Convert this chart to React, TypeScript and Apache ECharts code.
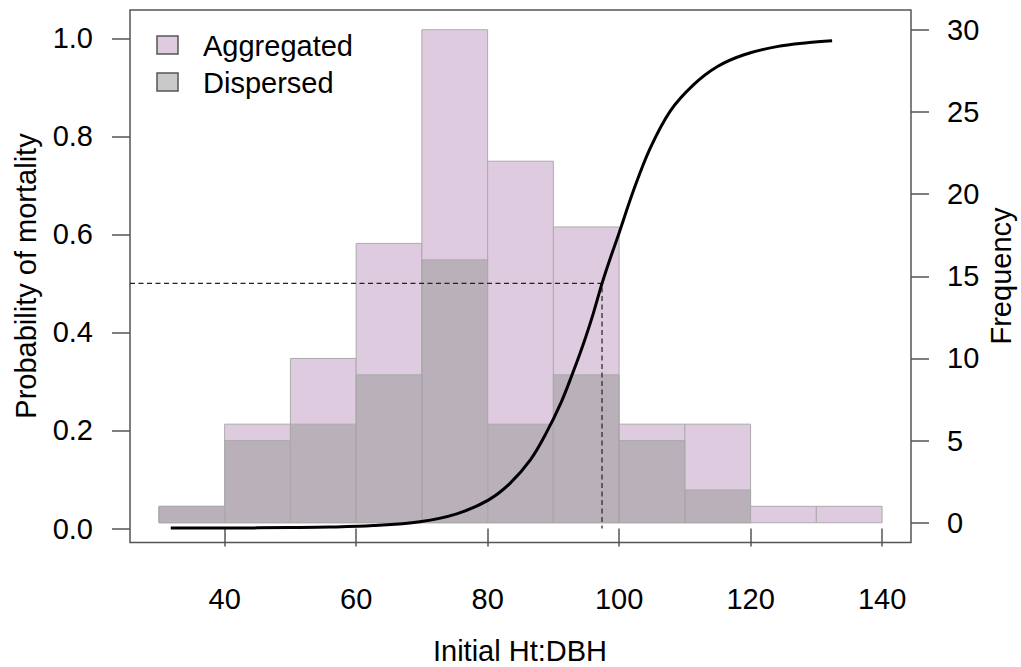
import React, { useEffect, useRef } from "react";
import * as echarts from "echarts";

// Histogram bins (Initial Ht:DBH)
const binEdges = [30, 40, 50, 60, 70, 80, 90, 100, 110, 120, 130, 140];
const aggregatedCounts = [1, 6, 10, 17, 30, 22, 18, 6, 6, 1, 1];
const dispersedCounts = [1, 5, 6, 9, 16, 6, 9, 5, 2, 0, 0];

// Fitted probability of mortality curve
const curveX = [31.8, 40, 50, 56, 62.6, 69.7, 75.3, 80.1, 83.4, 86.5, 88.8, 91.2, 92.8, 94.6, 96.1, 97.4, 98.7, 100.0, 102.2, 104.7, 107.8, 111.3, 114.9, 118.9, 124.0, 128.6, 132.4];
const curveP = [0.001, 0.001, 0.002, 0.003, 0.006, 0.014, 0.03, 0.058, 0.092, 0.14, 0.192, 0.258, 0.312, 0.378, 0.44, 0.5, 0.553, 0.603, 0.69, 0.775, 0.852, 0.905, 0.942, 0.966, 0.983, 0.991, 0.995];

// 50% mortality threshold
const thresholdX = 97.4;
const thresholdP = 0.5;

// Axis ticks
const xTicks = [40, 60, 80, 100, 120, 140];
const probTicks = [0, 0.2, 0.4, 0.6, 0.8, 1.0];
const freqTicks = [0, 5, 10, 15, 20, 25, 30];

const X_MIN = 25.6;
const X_MAX = 144.4;

const FONT = "'Liberation Sans', Arial, sans-serif";
const FS = 29;
const AXIS_COLOR = "#555";
const AGG_FILL = "#dfcbdf";
const DISP_FILL = "rgba(150,150,150,0.5)";
const BAR_STROKE = "#ababab";

function histData(counts: number[]) {
  return counts.map((c, i) => [binEdges[i], binEdges[i + 1], c]);
}

function makeRenderItem(fill: string, stroke: string) {
  return (params: any, api: any) => {
    const x0 = api.value(0);
    const x1 = api.value(1);
    const c = api.value(2);
    if (!(c > 0)) return null;
    const p0 = api.coord([x0, 0]);
    const p1 = api.coord([x1, c]);
    return {
      type: "rect",
      shape: { x: p0[0], y: p1[1], width: p1[0] - p0[0], height: p0[1] - p1[1] },
      style: { fill, stroke, lineWidth: 1 },
    };
  };
}

export default function App() {
  const ref = useRef<HTMLDivElement>(null);

  useEffect(() => {
    if (!ref.current) return;
    const chart = echarts.init(ref.current, null, { renderer: "svg" });
    const axisLabelStyle = { color: "#000", fontFamily: FONT, fontSize: FS };
    const tickStyle = { show: true, length: 18, lineStyle: { color: AXIS_COLOR, width: 1.5 } };

    chart.setOption({
      animation: false,
      backgroundColor: "#fff",
      grid: {
        left: 130,
        top: 10,
        width: 781,
        height: 532.5,
        show: true,
        borderColor: AXIS_COLOR,
        borderWidth: 1.5,
        backgroundColor: "transparent",
      },
      xAxis: {
        type: "value",
        min: X_MIN,
        max: X_MAX,
        axisLine: { show: false },
        splitLine: { show: false },
        axisTick: { ...tickStyle, customValues: xTicks },
        axisLabel: { ...axisLabelStyle, margin: 42, customValues: xTicks, formatter: (v: number) => String(v) },
      },
      yAxis: [
        {
          type: "value",
          position: "left",
          min: -0.0285,
          max: 1.0577,
          axisLine: { show: false },
          splitLine: { show: false },
          axisTick: { ...tickStyle, customValues: probTicks },
          axisLabel: { ...axisLabelStyle, margin: 37, customValues: probTicks, formatter: (v: number) => v.toFixed(1) },
        },
        {
          type: "value",
          position: "right",
          min: -1.2,
          max: 31.2,
          axisLine: { show: false },
          splitLine: { show: false },
          axisTick: { ...tickStyle, customValues: freqTicks },
          axisLabel: { ...axisLabelStyle, margin: 36, customValues: freqTicks, formatter: (v: number) => String(v) },
        },
      ],
      series: [
        {
          name: "Aggregated",
          type: "custom",
          xAxisIndex: 0,
          yAxisIndex: 1,
          renderItem: makeRenderItem(AGG_FILL, BAR_STROKE),
          encode: { x: [0, 1], y: 2 },
          data: histData(aggregatedCounts),
          z: 1,
        },
        {
          name: "Dispersed",
          type: "custom",
          xAxisIndex: 0,
          yAxisIndex: 1,
          renderItem: makeRenderItem(DISP_FILL, BAR_STROKE),
          encode: { x: [0, 1], y: 2 },
          data: histData(dispersedCounts),
          z: 2,
        },
        {
          name: "Threshold",
          type: "line",
          xAxisIndex: 0,
          yAxisIndex: 0,
          data: [
            [X_MIN, thresholdP],
            [thresholdX, thresholdP],
            [thresholdX, 0],
          ],
          symbol: "none",
          lineStyle: { color: "#222", width: 1.2, type: [5, 3.5] },
          z: 3,
        },
        {
          name: "Probability",
          type: "line",
          xAxisIndex: 0,
          yAxisIndex: 0,
          data: curveX.map((x, i) => [x, curveP[i]]),
          symbol: "none",
          smooth: 0.35,
          lineStyle: { color: "#000", width: 3 },
          z: 4,
        },
      ],
      graphic: [
        { type: "rect", shape: { x: 157, y: 36, width: 21, height: 18 }, style: { fill: AGG_FILL, stroke: AXIS_COLOR, lineWidth: 1.5 } },
        { type: "rect", shape: { x: 157, y: 73, width: 21, height: 18 }, style: { fill: "#c9c9c9", stroke: AXIS_COLOR, lineWidth: 1.5 } },
        { type: "text", x: 203, y: 46, style: { text: "Aggregated", fill: "#000", font: `${FS}px ${FONT}`, verticalAlign: "middle", align: "left" } },
        { type: "text", x: 203, y: 83, style: { text: "Dispersed", fill: "#000", font: `${FS}px ${FONT}`, verticalAlign: "middle", align: "left" } },
        { type: "text", x: 26, y: 276, rotation: Math.PI / 2, style: { text: "Probability of mortality", fill: "#000", font: `${FS}px ${FONT}`, verticalAlign: "middle", align: "center" } },
        { type: "text", x: 1001, y: 276, rotation: Math.PI / 2, style: { text: "Frequency", fill: "#000", font: `${FS}px ${FONT}`, verticalAlign: "middle", align: "center" } },
        { type: "text", x: 520, y: 651, style: { text: "Initial Ht:DBH", fill: "#000", font: `${FS}px ${FONT}`, verticalAlign: "middle", align: "center" } },
      ],
    });
    return () => chart.dispose();
  }, []);

  return <div ref={ref} style={{ position: "absolute", left: 0, top: 0, width: 1021, height: 667 }} />;
}
